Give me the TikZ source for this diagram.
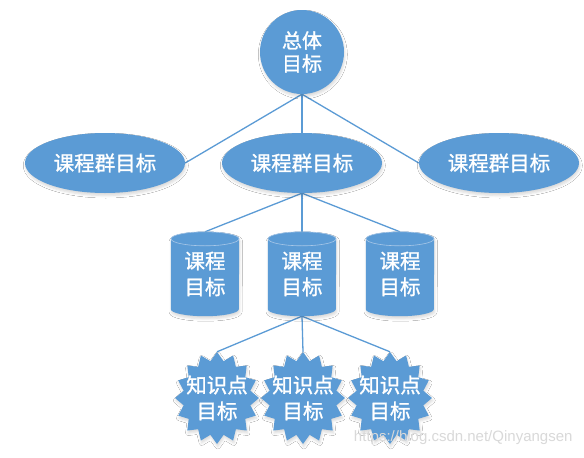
\documentclass[tikz,border=0pt]{standalone}
\usepackage{fontspec}
\newfontfamily\cjk[RawFeature={embolden=1.3}]{Noto Sans CJK SC}
\setsansfont{Liberation Sans}
\usetikzlibrary{shapes.geometric,shadows.blur,backgrounds}
\definecolor{ob}{HTML}{5B9BD5}
\definecolor{obedge}{HTML}{A9C8E8}
\begin{document}
\begin{tikzpicture}[x=1pt,y=-1pt,
  sh/.style={blur shadow={shadow xshift=0.8pt,shadow yshift=-2.5pt,shadow blur radius=2.5pt,shadow opacity=15}},
  lbl/.style={text=white,font=\cjk\fontsize{20.5}{26}\selectfont,align=center},
  conn/.style={draw=ob,line width=1.3pt},
  goal/.style={circle,fill=ob,minimum size=84,inner sep=0,sh,lbl,font=\cjk\fontsize{20}{23}\selectfont},
  grp/.style={ellipse,fill=ob,minimum width=160,minimum height=60,inner sep=0,sh,lbl},
  cylbox/.style={rectangle,minimum width=68,minimum height=84,inner sep=0,lbl},
  starbox/.style={ellipse,minimum width=84,minimum height=92,inner sep=0,lbl},
  cylfill/.style={fill=ob,sh},
  starfill/.style={fill=ob,sh}
]
\useasboundingbox (0,0) rectangle (584,458);

% nodes
\node[goal] (g) at (302,52) {总体\\目标};
\node[grp] (e1) at (105,163) {课程群目标};
\node[grp] (e2) at (302,163) {课程群目标};
\node[grp] (e3) at (499,163) {课程群目标};

\node[cylbox] (c1) at (205,274) {课程\\目标};
\node[cylbox] (c2) at (302,274) {课程\\目标};
\node[cylbox] (c3) at (400,274) {课程\\目标};

\node[starbox] (s1) at (217,398) {知识点\\目标};
\node[starbox] (s2) at (303,398) {知识点\\目标};
\node[starbox] (s3) at (390,398) {知识点\\目标};

\begin{pgfonlayer}{background}
  \fill[white] (0,0) rectangle (584,458);
  % connectors
  \draw[conn] (g.south) -- (e1.east);
  \draw[conn] (g.south) -- (e2.north);
  \draw[conn] (g.south) -- (e3.west);
  \draw[conn] (e2.south) -- (c1.north);
  \draw[conn] (e2.south) -- (c2.north);
  \draw[conn] (e2.south) -- (c3.north);
  \draw[conn] (c2.south) -- (s1.north);
  \draw[conn] (c2.south) -- (s2.north);
  \draw[conn] (c2.south) -- (s3.north);
  % cylinders
  \foreach \c in {c1,c2,c3}{
    \path[cylfill] ([yshift=-7pt]\c.north west) -- ([yshift=7pt]\c.south west)
      arc[start angle=180,end angle=360,x radius=34pt,y radius=7pt]
      -- ([yshift=-7pt]\c.north east)
      arc[start angle=0,end angle=180,x radius=34pt,y radius=7pt] -- cycle;
    \draw[fill=ob,draw=obedge,line width=0.6pt] ([yshift=-7pt]\c.north) ellipse[x radius=34pt,y radius=7pt];
  }
  % stars
  \foreach \s in {s1,s2,s3}{
    \path[starfill] (\s) +(0pt,46pt)
      \foreach \i in {1,...,31}{ -- +({cos(90+\i*11.25)*(mod(\i,2)==0?42:34)*1pt},{sin(90+\i*11.25)*(mod(\i,2)==0?46:37.5)*1pt}) } -- cycle;
  }
\end{pgfonlayer}

\node[text=gray!30,font=\sffamily\fontsize{15}{18}\selectfont,anchor=east] (wm) at (576,438) {https://blog.csdn.net/Qinyangsen};
\end{tikzpicture}
\end{document}
